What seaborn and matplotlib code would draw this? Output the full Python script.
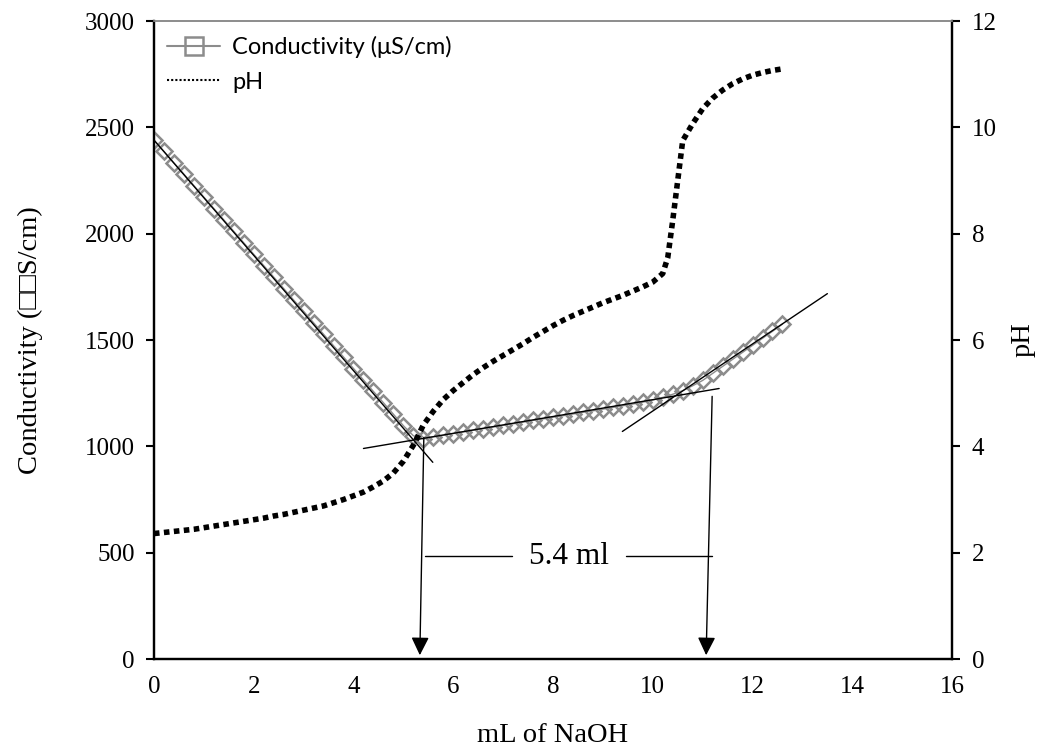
import seaborn as sns
import matplotlib.pyplot as plt
from matplotlib.lines import Line2D

# titration data (0.2 mL steps)
vol = [0.0, 0.2, 0.4, 0.6, 0.8, 1.0, 1.2, 1.4, 1.6, 1.8,
       2.0, 2.2, 2.4, 2.6, 2.8, 3.0, 3.2, 3.4, 3.6, 3.8,
       4.0, 4.2, 4.4, 4.6, 4.8, 5.0, 5.2, 5.4, 5.6, 5.8,
       6.0, 6.2, 6.4, 6.6, 6.8, 7.0, 7.2, 7.4, 7.6, 7.8,
       8.0, 8.2, 8.4, 8.6, 8.8, 9.0, 9.2, 9.4, 9.6, 9.8,
       10.0, 10.2, 10.4, 10.6, 10.8, 11.0, 11.2, 11.4, 11.6, 11.8,
       12.0, 12.2, 12.4, 12.6]
cond = [2440, 2387, 2333, 2280, 2226, 2172, 2118, 2065, 2011, 1957,
        1903, 1850, 1796, 1742, 1688, 1635, 1581, 1527, 1473, 1420,
        1366, 1312, 1258, 1205, 1151, 1097, 1050, 1035, 1045, 1052,
        1060, 1068, 1076, 1083, 1091, 1099, 1106, 1114, 1122, 1129,
        1137, 1144, 1152, 1160, 1167, 1175, 1183, 1191, 1199, 1208,
        1218, 1230, 1245, 1262, 1285, 1310, 1343, 1376, 1409, 1442,
        1475, 1508, 1541, 1575]

ph_vol = [0.0, 0.2, 0.4, 0.6, 0.8, 1.0, 1.2, 1.4, 1.6, 1.8,
          2.0, 2.2, 2.4, 2.6, 2.8, 3.0, 3.2, 3.4, 3.6, 3.8,
          4.0, 4.2, 4.4, 4.6, 4.8, 5.0, 5.2, 5.4, 5.6, 5.8,
          6.0, 6.2, 6.4, 6.6, 6.8, 7.0, 7.2, 7.4, 7.6, 7.8,
          8.0, 8.2, 8.4, 8.6, 8.8, 9.0, 9.2, 9.4, 9.6, 9.8,
          10.0, 10.2, 10.3, 10.4, 10.5, 10.6, 10.8, 11.0, 11.2, 11.4,
          11.6, 11.8, 12.0, 12.2, 12.4, 12.6]
ph = [2.36, 2.38, 2.40, 2.42, 2.44, 2.47, 2.50, 2.53, 2.56, 2.59,
      2.62, 2.65, 2.69, 2.72, 2.76, 2.80, 2.84, 2.88, 2.94, 3.00,
      3.07, 3.14, 3.24, 3.35, 3.50, 3.72, 4.02, 4.40, 4.66, 4.88,
      5.05, 5.20, 5.35, 5.48, 5.60, 5.71, 5.82, 5.93, 6.05, 6.16,
      6.27, 6.37, 6.46, 6.54, 6.62, 6.70, 6.77, 6.84, 6.92, 7.00,
      7.09, 7.25, 7.55, 8.25, 9.00, 9.75, 10.07, 10.35, 10.55, 10.70,
      10.82, 10.91, 10.98, 11.03, 11.07, 11.10]

# hand-drawn tangent lines (x0, x1), (y0, y1) in conductivity units
fit1 = ([0.0, 5.59], [2440, 925])
fit2 = ([4.2, 11.33], [990, 1272])
fit3 = ([9.39, 13.5], [1070, 1718])
# arrows to the two end points
arrow_left = ([5.41, 5.33], [1042, 18])
arrow_right = ([11.19, 11.07], [1235, 18])
span_y = 484
span_left = [5.43, 7.17]
span_right = [9.47, 11.19]
span_text = "5.4 ml"

sns.set_style("white")
serif = ["Liberation Serif", "DejaVu Serif"]

fig = plt.figure(figsize=(10.46, 7.5), dpi=100)
ax = fig.add_axes([0.1472, 0.1213, 0.7630, 0.8507])
ax2 = ax.twinx()

grey = "#8c8c8c"
sns.lineplot(x=vol, y=cond, ax=ax, color=grey, lw=1, marker="D", markersize=8.5,
             markerfacecolor="none", markeredgecolor=grey, markeredgewidth=1.8,
             sort=False, legend=False, zorder=3)
sns.lineplot(x=ph_vol, y=ph, ax=ax2, color="black", lw=4, linestyle=(0, (1, 0.8)),
             sort=False, legend=False)

for fx, fy in [fit1, fit2, fit3]:
    ax.plot(fx, fy, color="black", lw=1, zorder=4)

for axx, ayy in [arrow_left, arrow_right]:
    ax.annotate("", xy=(axx[1], ayy[1]), xytext=(axx[0], ayy[0]),
                arrowprops=dict(arrowstyle="-|>,head_length=0.55,head_width=0.27",
                                color="black", lw=1, mutation_scale=20,
                                shrinkA=0, shrinkB=0))
ax.plot(span_left, [span_y, span_y], color="black", lw=1)
ax.plot(span_right, [span_y, span_y], color="black", lw=1)
ax.text((span_left[1] + span_right[0]) / 2, span_y, span_text, ha="center",
        va="center", fontsize=22.5, family=serif, color="black")

ax.set_xlim(0, 16)
ax.set_ylim(0, 3000)
ax2.set_ylim(0, 12)
ax.set_xticks(range(0, 17, 2))
ax.set_yticks(range(0, 3001, 500))
ax2.set_yticks(range(0, 13, 2))

for a in (ax, ax2):
    a.tick_params(direction="out", length=6, width=1.5, labelsize=18,
                  colors="black")
    for lab in a.get_xticklabels() + a.get_yticklabels():
        lab.set_family(serif)
    for side in ("left", "right", "bottom"):
        a.spines[side].set_color("black")
        a.spines[side].set_linewidth(1.6)
    a.spines["top"].set_color(grey)
    a.spines["top"].set_linewidth(1.2)
ax.tick_params(axis="x", pad=6)
ax.tick_params(axis="y", left=True, pad=8)
ax2.tick_params(axis="y", right=True, pad=8)

ax.set_xlabel("mL of NaOH", fontsize=20.5, family=serif, labelpad=18, color="black")
ax.set_ylabel("Conductivity (\u25a1\u25a1S/cm)", fontsize=20.5, family=serif,
              labelpad=30, color="black")
ax2.set_ylabel("pH", fontsize=20.5, family=serif, labelpad=10, color="black")

handles = [
    Line2D([], [], color=grey, lw=1.5, marker="s", markersize=13,
           markerfacecolor="none", markeredgecolor=grey, markeredgewidth=1.8),
    Line2D([], [], color="black", lw=1.5, linestyle=(0, (1, 1))),
]
leg = ax.legend(handles, ["Conductivity (\u03bcS/cm)", "pH"], loc="upper left",
                bbox_to_anchor=(-0.01, 1.01), frameon=False, handlelength=2.25,
                handletextpad=0.5, labelspacing=0.58,
                prop={"family": ["Lato", "DejaVu Sans"], "size": 17})
for t in leg.get_texts():
    t.set_color("black")

fig.savefig("out.png", dpi=100)
